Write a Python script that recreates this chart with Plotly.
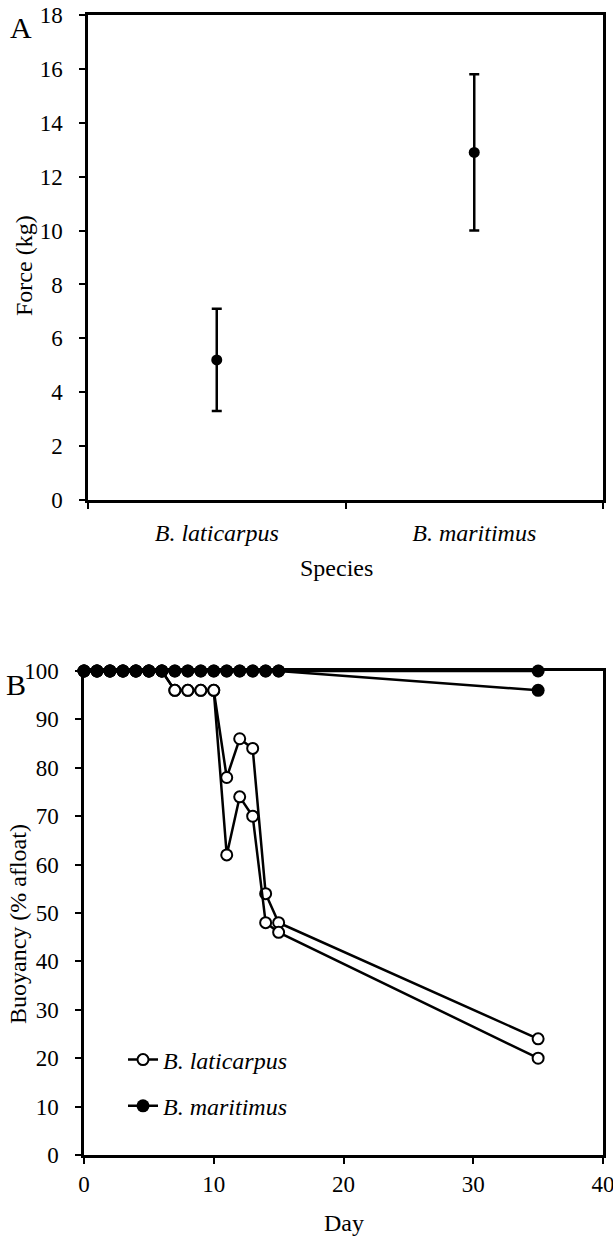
import plotly.graph_objects as go

# ---------- Panel A data ----------
species = ["B. laticarpus", "B. maritimus"]
species_labels = ["<i>B. laticarpus</i>", "<i>B. maritimus</i>"]
force_mean = [5.2, 12.9]
force_err = [1.9, 2.9]

# ---------- Panel B data ----------
days = [0, 1, 2, 3, 4, 5, 6, 7, 8, 9, 10, 11, 12, 13, 14, 15, 35]
lat_rep1 = [100, 100, 100, 100, 100, 100, 100, 96, 96, 96, 96, 78, 86, 84, 54, 48, 24]
lat_rep2 = [100, 100, 100, 100, 100, 100, 100, 96, 96, 96, 96, 62, 74, 70, 48, 46, 20]
mar_rep1 = [100, 100, 100, 100, 100, 100, 100, 100, 100, 100, 100, 100, 100, 100, 100, 100, 100]
mar_rep2 = [100, 100, 100, 100, 100, 100, 100, 100, 100, 100, 100, 100, 100, 100, 100, 100, 96]

FONT = "Liberation Serif, Times New Roman, serif"
W, H = 613, 1237

fig = go.Figure()

# Panel A
fig.add_trace(go.Scatter(
    x=species, y=force_mean, mode="markers",
    marker=dict(color="black", size=11),
    error_y=dict(type="data", array=force_err, visible=True,
                 color="black", thickness=2.5, width=5),
    showlegend=False, xaxis="x", yaxis="y", cliponaxis=False,
))

# Panel B
open_marker = dict(symbol="circle", size=11, color="white",
                   line=dict(color="black", width=2))
filled_marker = dict(symbol="circle", size=13, color="black",
                     line=dict(color="black", width=0))
line_style = dict(color="black", width=2.5)

fig.add_trace(go.Scatter(x=days, y=lat_rep1, mode="lines+markers",
                         name="<i>B. laticarpus</i>", legendgroup="lat",
                         marker=open_marker, line=line_style,
                         xaxis="x2", yaxis="y2", cliponaxis=False))
fig.add_trace(go.Scatter(x=days, y=lat_rep2, mode="lines+markers",
                         name="<i>B. laticarpus</i>", legendgroup="lat",
                         showlegend=False,
                         marker=open_marker, line=line_style,
                         xaxis="x2", yaxis="y2", cliponaxis=False))
fig.add_trace(go.Scatter(x=days, y=mar_rep2, mode="lines+markers",
                         name="<i>B. maritimus</i>", legendgroup="mar",
                         marker=filled_marker, line=line_style,
                         xaxis="x2", yaxis="y2", cliponaxis=False))
fig.add_trace(go.Scatter(x=days, y=mar_rep1, mode="lines+markers",
                         name="<i>B. maritimus</i>", legendgroup="mar",
                         showlegend=False,
                         marker=filled_marker, line=line_style,
                         xaxis="x2", yaxis="y2", cliponaxis=False))

tickfont = dict(family=FONT, size=23, color="black")
axis_common = dict(showline=True, linecolor="black", linewidth=2.5, mirror=True,
                   ticks="outside", ticklen=6, tickwidth=2, tickcolor="black",
                   showgrid=False, zeroline=False, ticklabeloverflow="allow")

title_font = dict(family=FONT, size=24, color="black")

fig.update_layout(
    width=W, height=H,
    margin=dict(l=0, r=0, t=0, b=0, autoexpand=False),
    paper_bgcolor="white", plot_bgcolor="white",
    font=dict(family=FONT, color="black"),
    xaxis=dict(domain=[88 / W, 603 / W], anchor="y", type="category",
               tickmode="array", tickvals=species, ticktext=species_labels,
               tickson="boundaries", range=[-0.5, 1.5],
               ticklabelstandoff=9,
               tickfont=dict(family=FONT, size=24, color="black"),
               **axis_common),
    yaxis=dict(domain=[1 - 500 / H, 1 - 15 / H], anchor="x",
               range=[0, 18], dtick=2, ticklabelstandoff=12,
               tickfont=tickfont, **axis_common),
    xaxis2=dict(domain=[84 / W, 603 / W], anchor="y2",
                range=[0, 40], dtick=10, ticklabelstandoff=1,
                tickfont=tickfont, **axis_common),
    yaxis2=dict(domain=[1 - 1155 / H, 1 - 671 / H], anchor="x2",
                range=[0, 100], dtick=10, ticklabelstandoff=12,
                tickfont=tickfont, **axis_common),
    legend=dict(x=123 / W, y=1 - 1083 / H, xanchor="left", yanchor="middle",
                bgcolor="rgba(0,0,0,0)", borderwidth=0,
                font=dict(family=FONT, size=24, color="black"),
                traceorder="grouped", tracegroupgap=12),
    annotations=[
        dict(text="A", x=21 / W, y=1 - 28 / H, xref="paper", yref="paper",
             xanchor="center", yanchor="middle",
             showarrow=False, font=dict(family=FONT, size=30, color="black")),
        dict(text="B", x=16 / W, y=1 - 684 / H, xref="paper", yref="paper",
             xanchor="center", yanchor="middle",
             showarrow=False, font=dict(family=FONT, size=30, color="black")),
        dict(text="Force (kg)", x=24 / W, y=1 - 265 / H, xref="paper", yref="paper",
             xanchor="center", yanchor="middle",
             showarrow=False, textangle=-90, font=title_font),
        dict(text="Species", x=336 / W, y=1 - 568 / H, xref="paper", yref="paper",
             xanchor="center", yanchor="middle",
             showarrow=False, font=title_font),
        dict(text="Buoyancy (% afloat)", x=18 / W, y=1 - 924 / H, xref="paper",
             yref="paper", xanchor="center", yanchor="middle",
             showarrow=False, textangle=-90, font=title_font),
        dict(text="Day", x=344 / W, y=1 - 1223 / H, xref="paper", yref="paper",
             xanchor="center", yanchor="middle",
             showarrow=False, font=title_font),
    ],
)

fig.write_html("out.html", config={"displayModeBar": False},
               post_script="document.body.style.margin='0';document.body.style.padding='0';")
